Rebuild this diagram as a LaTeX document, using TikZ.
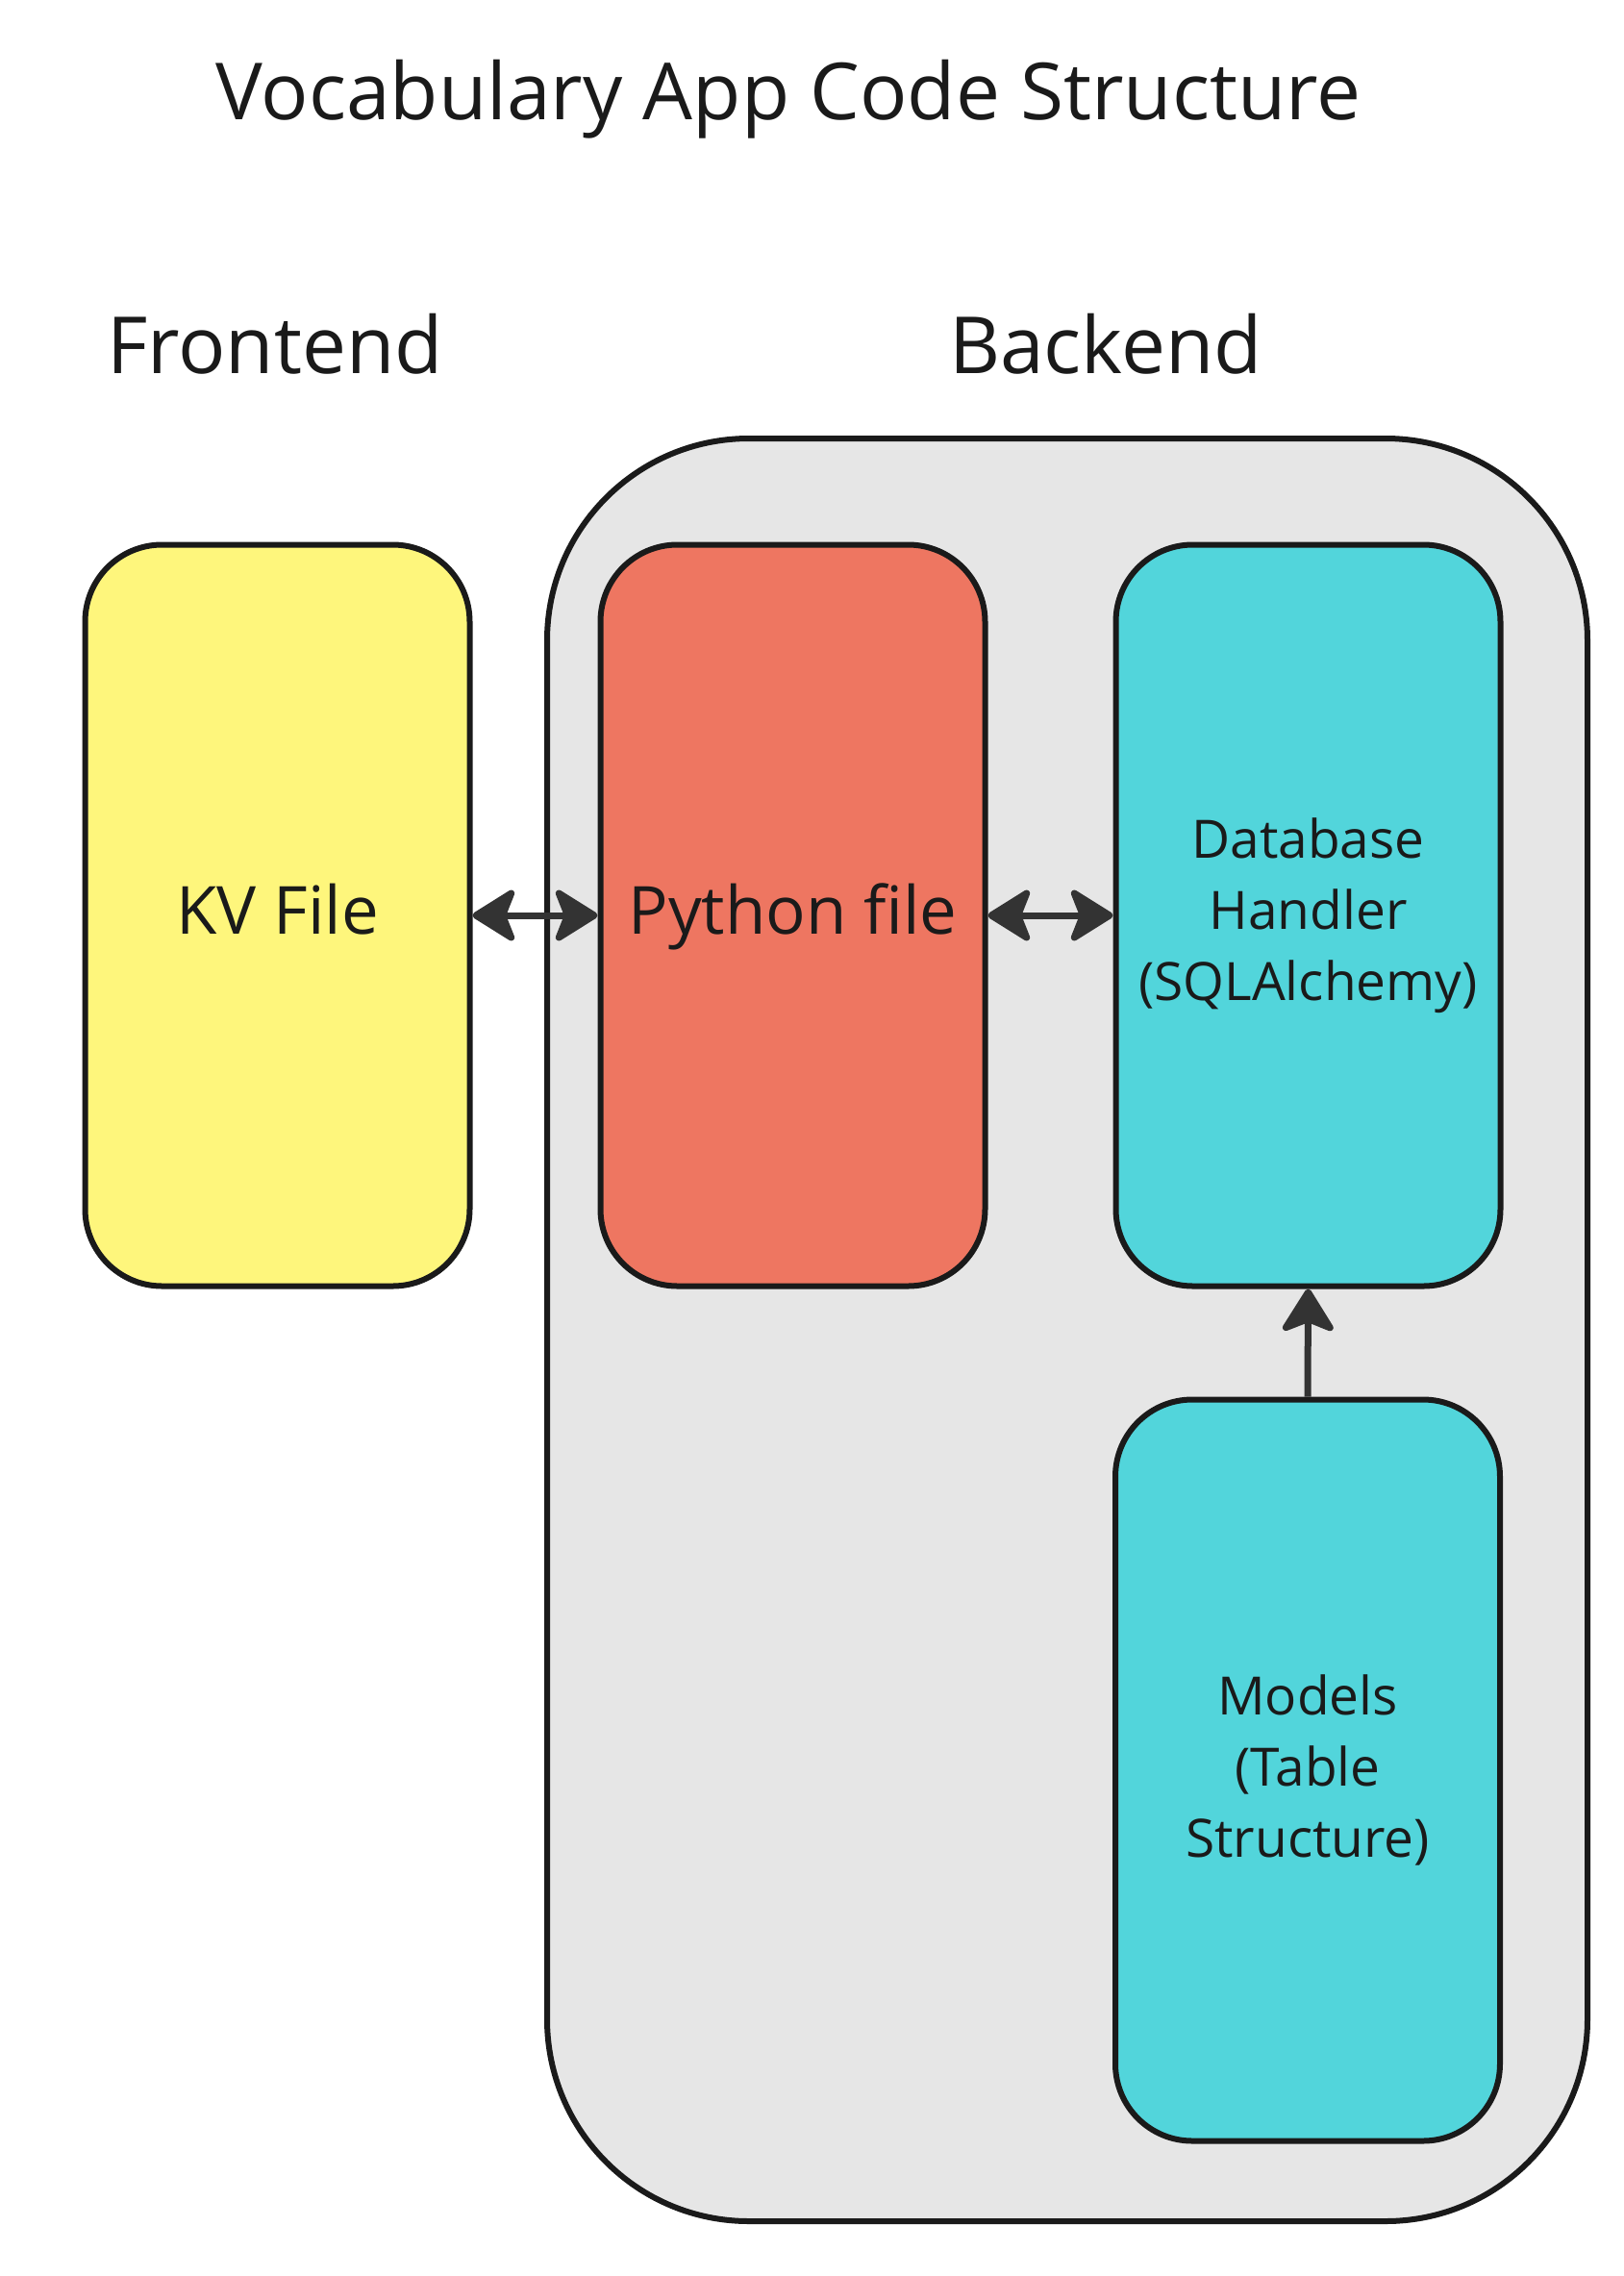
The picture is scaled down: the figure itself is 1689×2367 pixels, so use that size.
\documentclass[tikz,border=0pt]{standalone}
\usepackage{fontspec}
\setmainfont{Open Sans}
\usetikzlibrary{arrows.meta}
\definecolor{kvyellow}{HTML}{FEF67C}
\definecolor{pyred}{HTML}{EE7661}
\definecolor{dbcyan}{HTML}{52D5DB}
\definecolor{backgray}{HTML}{E6E6E6}
\definecolor{linec}{HTML}{1A1A1A}
\definecolor{arrowc}{HTML}{333333}
\tikzset{mytip/.tip={Stealth[length=50pt, width=62pt, inset=12pt, round]}}
\begin{document}
\begin{tikzpicture}[x=1pt,y=-1pt,
  box/.style={draw=linec, line width=6pt, rounded corners=80pt, minimum width=400pt, minimum height=771pt, inner sep=0pt, text=linec, align=center},
  bigfont/.style={font=\fontsize{69}{83}\selectfont, text height=58pt, text depth=20pt},
  smallfont/.style={font=\fontsize{55}{74}\selectfont},
  heading/.style={anchor=base, text=linec, font=\fontsize{82}{98}\selectfont},
  conn/.style={draw=arrowc, line width=7pt}
]
\useasboundingbox (0,0) rectangle (1689,2367);
\node[draw=linec, fill=backgray, line width=6pt, rounded corners=210pt, minimum width=1082pt, minimum height=1854pt, inner sep=0pt] (backend) at (1110,1383) {};
\node[heading] (title) at (820,124) {Vocabulary App Code Structure};
\node[heading] (fronthead) at (286,388) {Frontend};
\node[heading] (backhead) at (1150,388) {Backend};
\node[box, bigfont, fill=kvyellow] (kv) at (288.5,952) {KV File};
\node[box, bigfont, fill=pyred] (py) at (824.5,952) {Python file};
\node[box, smallfont, fill=dbcyan] (db) at (1360.5,952) {Database\\Handler\\(SQLAlchemy)};
\node[box, smallfont, fill=dbcyan] (models) at (1360,1841) {Models\\(Table\\Structure)};
\draw[conn, mytip-mytip] (kv.east) -- (py.west);
\draw[conn, mytip-mytip] (py.east) -- (db.west);
\draw[conn, -mytip] (models.north) -- (db.south);
\end{tikzpicture}
\end{document}
